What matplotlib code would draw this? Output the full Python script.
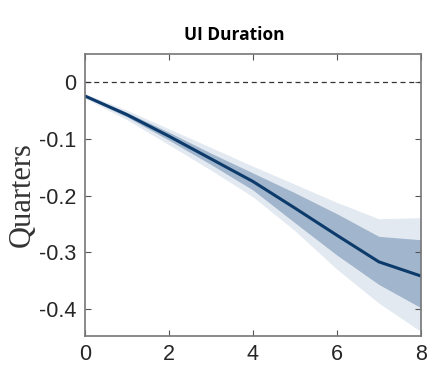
import numpy as np
import matplotlib.pyplot as plt

# horizon (quarters) and impulse response
horizon = [0, 1, 2, 3, 4, 5, 6, 7, 8]
irf = [-0.024, -0.057, -0.095, -0.135, -0.175, -0.222, -0.270, -0.317, -0.342]
# 68% and 90% bands
inner_hi = [-0.022, -0.053, -0.088, -0.125, -0.160, -0.195, -0.232, -0.272, -0.278]
inner_lo = [-0.026, -0.061, -0.102, -0.145, -0.190, -0.248, -0.305, -0.357, -0.398]
outer_hi = [-0.020, -0.049, -0.082, -0.115, -0.148, -0.180, -0.212, -0.241, -0.239]
outer_lo = [-0.028, -0.066, -0.110, -0.155, -0.202, -0.262, -0.330, -0.390, -0.440]

fig = plt.figure(figsize=(4.29, 3.68), dpi=100)
ax = fig.add_axes([0.198, 0.087, 0.783, 0.766])

ax.fill_between(horizon, outer_lo, outer_hi, color='#e3e9f1', lw=0)
ax.fill_between(horizon, inner_lo, inner_hi, color='#a1b5cc', lw=0)
ax.plot(horizon, irf, color='#0c3a6b', lw=2.2)
ax.axhline(0, color='#333333', ls='--', lw=0.9, dashes=(4, 3))

ax.set_xlim(0, 8)
ax.set_ylim(-0.448, 0.05)
ax.set_xticks([0, 2, 4, 6, 8])
ax.set_yticks([0, -0.1, -0.2, -0.3, -0.4])
ax.set_yticklabels(['0', '-0.1', '-0.2', '-0.3', '-0.4'])
ax.tick_params(direction='in', top=True, right=True, labelsize=15.5,
               colors='#555555', labelcolor='#262626', length=4, pad=6)
for t in ax.get_xticklabels() + ax.get_yticklabels():
    t.set_family('Liberation Sans')
for s in ax.spines.values():
    s.set_color('#777777')
    s.set_linewidth(1.2)

ax.set_ylabel('Quarters', family='Liberation Serif', fontsize=22, color='#333333', labelpad=2)
fig.text(0.546, 0.905, 'UI Duration', ha='center', va='center',
         family='Open Sans', fontweight='bold', fontsize=12.5)

plt.savefig('out.png', dpi=100)
